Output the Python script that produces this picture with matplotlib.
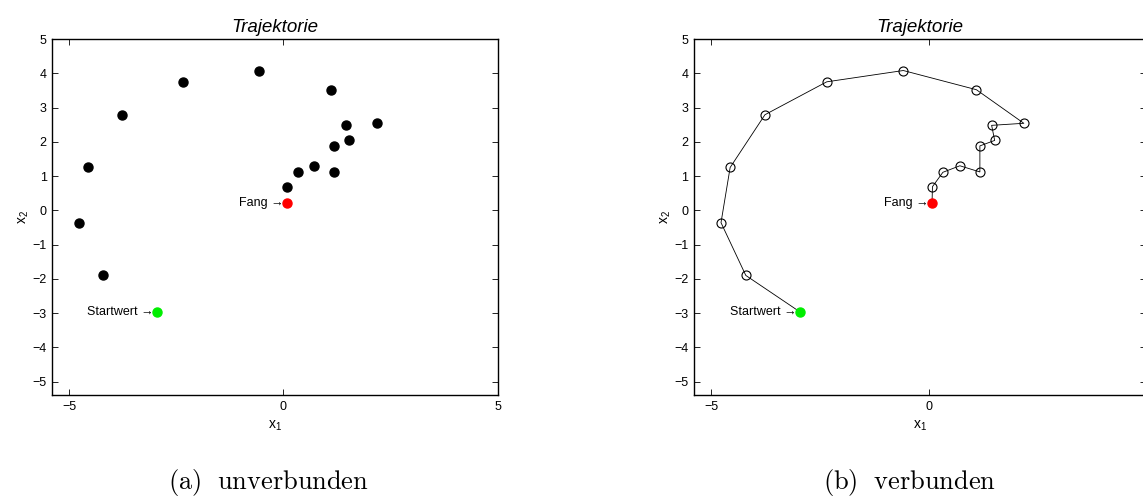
import numpy as np
import matplotlib
matplotlib.use("Agg")
import matplotlib.pyplot as plt

plt.rcParams['font.family'] = ['Liberation Sans', 'DejaVu Sans']
plt.rcParams['mathtext.default'] = 'regular'

# trajectory states x1, x2 from start value to capture
x1 = [-2.95, -4.20, -4.77, -4.56, -3.76, -2.34, -0.58, 1.10, 2.19,
      1.45, 1.52, 1.18, 1.18, 0.72, 0.33, 0.09, 0.08]
x2 = [-2.97, -1.90, -0.36, 1.25, 2.79, 3.75, 4.08, 3.52, 2.54,
      2.48, 2.04, 1.88, 1.12, 1.30, 1.11, 0.69, 0.21]
captions = ["(a)\\ \\ unverbunden", "(b)\\ \\ verbunden"]

x1 = np.array(x1)
x2 = np.array(x2)

fig = plt.figure(figsize=(11.43, 5.0), dpi=100)
ax_a = fig.add_axes([0.0458, 0.21, 0.3897, 0.712])
ax_b = fig.add_axes([0.6072, 0.21, 0.3955, 0.712])


def style_axes(ax):
    ax.set_xlim(-5.39, 5)
    ax.set_ylim(-5.39, 5)
    ax.set_xticks([-5, 0, 5])
    ax.set_yticks(np.arange(-5, 6, 1))
    ax.tick_params(direction='in', top=True, right=True, length=4,
                   width=0.6, labelsize=9, pad=4)
    for s in ax.spines.values():
        s.set_linewidth(1.0)
    ax.set_title('Trajektorie', fontsize=13.5, style='italic', pad=5)
    ax.set_xlabel('x$_1$', fontsize=10, labelpad=4)
    ax.set_ylabel('x$_2$', fontsize=10, labelpad=1)


def mark_ends(ax):
    ax.plot(x1[0], x2[0], 'o', color='#00ee00', markersize=6.5, zorder=4)
    ax.plot(x1[-1], x2[-1], 'o', color='#ff0000', markersize=6.5, zorder=4)
    ax.text(x1[0] - 0.08, x2[0], 'Startwert \u2192', ha='right', va='center', fontsize=9)
    ax.text(x1[-1] - 0.08, x2[-1], 'Fang \u2192', ha='right', va='center', fontsize=9)


# (a) points only
style_axes(ax_a)
ax_a.plot(x1[1:-1], x2[1:-1], 'o', color='black', markersize=6.5, linestyle='none')
mark_ends(ax_a)

# (b) points connected by a line
style_axes(ax_b)
ax_b.plot(x1, x2, '-', color='black', linewidth=0.6)
ax_b.plot(x1[1:-1], x2[1:-1], 'o', markerfacecolor='none', markeredgecolor='black',
          markersize=6.5, markeredgewidth=0.8, linestyle='none')
mark_ends(ax_b)

fig.text(0.2349, 0.036, '$\\mathrm{' + captions[0] + '}$', ha='center', va='center',
         fontsize=19, math_fontfamily='cm')
fig.text(0.7958, 0.036, '$\\mathrm{' + captions[1] + '}$', ha='center', va='center',
         fontsize=19, math_fontfamily='cm')

fig.savefig('out.png', dpi=100)
